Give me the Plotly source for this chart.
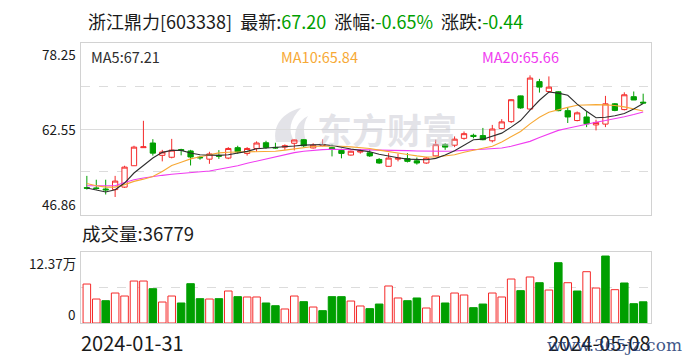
import plotly.graph_objects as go

# ---------------- data ----------------
dates = ["2024-01-31", "2024-02-01", "2024-02-02", "2024-02-05", "2024-02-06", "2024-02-07",
         "2024-02-08", "2024-02-19", "2024-02-20", "2024-02-21", "2024-02-22", "2024-02-23",
         "2024-02-26", "2024-02-27", "2024-02-28", "2024-02-29", "2024-03-01", "2024-03-04",
         "2024-03-05", "2024-03-06", "2024-03-07", "2024-03-08", "2024-03-11", "2024-03-12",
         "2024-03-13", "2024-03-14", "2024-03-15", "2024-03-18", "2024-03-19", "2024-03-20",
         "2024-03-21", "2024-03-22", "2024-03-25", "2024-03-26", "2024-03-27", "2024-03-28",
         "2024-03-29", "2024-04-01", "2024-04-02", "2024-04-03", "2024-04-08", "2024-04-09",
         "2024-04-10", "2024-04-11", "2024-04-12", "2024-04-15", "2024-04-16", "2024-04-17",
         "2024-04-18", "2024-04-19", "2024-04-22", "2024-04-23", "2024-04-24", "2024-04-25",
         "2024-04-26", "2024-04-29", "2024-04-30", "2024-05-06", "2024-05-07", "2024-05-08"]

opens = [51.85, 51.8, 51.6, 51.5, 51.95, 55.85, 59.15, 60.0, 57.75, 57.4,
         58.8, 58.55, 57.4, 57.05, 57.75, 57.25, 59.15, 58.1, 59.0, 60.05,
         59.2, 59.25, 59.95, 60.6, 59.1, 59.55, 59.15, 58.65, 57.8, 58.35,
         58.2, 57.0, 55.75, 57.05, 57.15, 56.75, 56.35, 57.65, 59.7, 59.6,
         60.85, 61.4, 61.35, 60.4, 62.65, 63.9, 68.6, 66.2, 71.2, 69.4,
         69.35, 65.9, 64.1, 64.75, 63.3, 63.45, 67.15, 66.1, 68.45, 67.45]
highs = [54.0, 53.3, 53.3, 54.0, 55.85, 59.5, 64.05, 60.7, 58.75, 60.75,
         58.95, 58.75, 57.65, 58.4, 58.7, 59.25, 59.5, 59.25, 60.3, 60.4,
         60.05, 59.75, 60.6, 60.7, 59.95, 60.65, 59.75, 58.95, 58.6, 58.9,
         58.75, 57.25, 58.15, 58.05, 58.15, 57.35, 57.45, 60.6, 60.0, 61.2,
         62.1, 61.7, 62.75, 63.3, 64.35, 68.0, 68.65, 72.35, 71.7, 72.15,
         69.45, 66.4, 65.75, 65.75, 64.25, 68.6, 67.3, 69.25, 69.4, 69.0]
lows = [51.5, 51.5, 50.6, 50.15, 51.8, 55.8, 59.1, 57.7, 56.65, 57.2,
        57.75, 55.9, 56.95, 56.2, 57.1, 57.05, 58.05, 57.7, 58.4, 58.95,
        58.95, 58.75, 58.65, 59.25, 59.0, 59.4, 57.55, 57.2, 57.7, 58.05,
        57.45, 56.2, 55.7, 56.65, 56.45, 56.05, 56.2, 57.55, 58.75, 59.25,
        60.6, 60.85, 60.5, 60.1, 62.5, 63.65, 66.25, 66.1, 69.2, 69.2,
        65.8, 63.65, 63.95, 62.9, 62.3, 62.9, 65.8, 65.95, 67.9, 67.15]
closes = [51.75, 51.7, 51.45, 53.05, 55.6, 59.25, 59.3, 58.15, 58.35, 58.7,
          58.65, 57.45, 57.3, 58.0, 57.6, 59.0, 58.4, 59.0, 60.0, 59.2,
          59.1, 59.5, 60.55, 59.5, 59.6, 59.7, 58.9, 58.1, 58.5, 58.55,
          57.65, 56.35, 57.25, 57.25, 56.65, 56.35, 57.25, 59.7, 59.25, 60.7,
          61.7, 61.2, 60.6, 62.55, 63.85, 67.9, 66.4, 71.85, 70.2, 70.2,
          65.9, 64.75, 65.5, 63.5, 63.75, 67.15, 65.95, 68.8, 67.85, 67.3]

ma5 = [51.78, 51.47, 51.05, 51.47, 52.69, 54.52, 55.85, 57.25, 58.29, 58.65,
       58.65, 58.17, 57.86, 57.74, 57.74, 57.86, 58.17, 58.47, 58.96, 59.08,
       59.15, 59.2, 59.45, 59.62, 59.7, 59.72, 59.55, 59.2, 58.9, 58.65,
       58.4, 57.95, 57.6, 57.3, 57.05, 56.95, 56.95, 57.2, 57.8, 58.6,
       59.65, 60.6, 60.7, 61.2, 61.8, 62.9, 64.1, 66.0, 67.8, 69.3,
       69.1, 68.7, 67.1, 65.8, 64.6, 64.7, 64.98, 65.4, 66.2, 67.21]
ma10 = [52.6, 52.2, 51.95, 51.95, 52.4, 53.0, 53.4, 53.9, 54.8, 55.9,
        56.5, 57.1, 57.5, 57.9, 58.2, 58.3, 58.35, 58.35, 58.4, 58.45,
        58.5, 58.7, 58.95, 59.15, 59.35, 59.45, 59.45, 59.4, 59.3, 59.2,
        59.0, 58.7, 58.4, 58.15, 57.9, 57.65, 57.45, 57.45, 57.6, 57.85,
        58.3, 58.7, 59.0, 59.4, 60.2, 61.2, 62.1, 63.5, 64.7, 65.6,
        66.1, 66.5, 66.9, 67.0, 67.0, 66.95, 66.85, 66.6, 66.25, 65.84]
ma20 = [52.2, 52.2, 52.2, 52.2, 52.8, 53.3, 53.6, 53.9, 54.1, 54.3,
        54.45, 54.6, 54.75, 54.9, 55.2, 55.5, 55.85, 56.3, 56.7, 57.15,
        57.55, 57.9, 58.25, 58.5, 58.7, 58.8, 58.85, 58.85, 58.85, 58.8,
        58.75, 58.7, 58.7, 58.65, 58.6, 58.55, 58.5, 58.5, 58.5, 58.55,
        58.7, 58.8, 58.85, 58.95, 59.1, 59.4, 59.8, 60.3, 61.0, 61.6,
        62.3, 62.7, 63.1, 63.5, 63.8, 64.1, 64.4, 64.8, 65.2, 65.66]

# volume in units of 万 (10,000 shares)
volume_wan = [6.76, 4.16, 3.87, 5.2, 4.68, 7.28, 7.28, 5.95, 3.64, 4.68,
              3.47, 6.82, 4.22, 4.16, 4.22, 5.55, 4.57, 4.51, 4.51, 3.47,
              3.0, 2.43, 4.68, 3.7, 2.77, 2.14, 4.57, 4.57, 3.81, 2.95,
              2.49, 3.29, 6.42, 4.34, 3.87, 4.34, 2.6, 4.68, 3.47, 5.2,
              4.86, 2.66, 3.29, 5.2, 4.51, 7.63, 5.61, 7.98, 6.99, 5.72,
              10.46, 6.99, 5.55, 8.9, 6.07, 11.62, 5.78, 6.94, 3.35, 3.68]
# 1 = up day (red), 0 = down day (green), as coloured in the volume panel
vol_up = [1, 1, 0, 1, 1, 1, 1, 0, 1, 1,
          0, 0, 0, 1, 0, 1, 0, 1, 1, 0,
          0, 1, 1, 0, 1, 0, 0, 0, 1, 1,
          0, 0, 1, 1, 0, 0, 1, 1, 0, 1,
          1, 0, 0, 1, 1, 1, 0, 1, 0, 1,
          0, 1, 0, 1, 1, 0, 1, 0, 0, 0]

price_ticks = [46.86, 62.55, 78.25]
price_minor = [54.71, 70.40]
vol_max = 12.37
vol_ticks = ["12.37万", "0"]

stock_name = "浙江鼎力[603338]"
latest = "67.20"
pct = "-0.65%"
chg = "-0.44"
last_volume = "36779"
ma_labels = ["MA5:67.21", "MA10:65.84", "MA20:65.66"]

# ---------------- styles ----------------
W, H = 688, 360
RED = "#f52a2a"
GREEN = "#009f00"
MA5C = "#2e2e2e"
MA10C = "#f7a935"
MA20C = "#f03cf0"
BORDER = "#d2d2d2"
GRID = "#dcdcdc"
TXT = "#1a1a1a"
WM = "rgba(200,200,210,0.5)"
FONT = "Noto Sans CJK SC, Noto Sans, sans-serif"

x0p, x1p = 81 / W, 651 / W
price_dom = [1 - 215 / H, 1 - 43 / H]
vol_dom = [1 - 323 / H, 1 - 251.7 / H]
xr = [-0.62, 59.83]


def px(x, y):
    return f"{x / W:.5f},{1 - y / H:.5f}"


fig = go.Figure()

fig.add_trace(go.Candlestick(
    x=dates, open=opens, high=highs, low=lows, close=closes,
    increasing=dict(line=dict(color=RED, width=1), fillcolor="white"),
    decreasing=dict(line=dict(color=GREEN, width=1), fillcolor=GREEN),
    whiskerwidth=0, showlegend=False, hoverinfo="skip",
    xaxis="x", yaxis="y"))

for vals, col in ((ma20, MA20C), (ma10, MA10C), (ma5, MA5C)):
    fig.add_trace(go.Scatter(x=dates, y=vals, mode="lines",
                             line=dict(color=col, width=1.1),
                             showlegend=False, hoverinfo="skip",
                             xaxis="x", yaxis="y"))

fig.add_trace(go.Bar(
    x=dates, y=volume_wan,
    marker=dict(color=["white" if u else GREEN for u in vol_up],
                line=dict(color=[RED if u else GREEN for u in vol_up], width=1)),
    showlegend=False, hoverinfo="skip", xaxis="x2", yaxis="y2"))

ax_common = dict(type="category", range=xr, showticklabels=False, showgrid=False,
                 showline=True, mirror=True, linecolor=BORDER, linewidth=1,
                 ticks="", zeroline=False, fixedrange=True)

# watermark logo swoosh (decoration, behind the data)
swoosh1 = ("M " + px(276, 142) + " C " + px(272, 126) + " " + px(283, 112) + " " + px(301, 108)
           + " C " + px(290, 119) + " " + px(287, 131) + " " + px(295, 142) + " Z")
swoosh2 = ("M " + px(296, 142) + " C " + px(293, 131) + " " + px(298, 121) + " " + px(308, 116)
           + " C " + px(302, 125) + " " + px(304, 134) + " " + px(306, 142) + " Z")

fig.update_layout(
    width=W, height=H, autosize=False,
    margin=dict(l=0, r=0, t=0, b=0),
    paper_bgcolor="white", plot_bgcolor="white",
    boxgap=0.2, bargap=0.2,
    font=dict(family=FONT, color=TXT),
    xaxis=dict(domain=[x0p, x1p], anchor="y", rangeslider=dict(visible=False), **ax_common),
    yaxis=dict(domain=price_dom, range=[price_ticks[0], price_ticks[-1]],
               tickmode="array", tickvals=price_ticks, showticklabels=False,
               showgrid=True, gridcolor=GRID, gridwidth=1,
               minor=dict(tickmode="array", tickvals=price_minor, showgrid=True,
                          gridcolor=GRID, griddash="dash", gridwidth=1, ticks=""),
               showline=True, mirror=True, linecolor=BORDER, zeroline=False,
               ticks="", fixedrange=True),
    xaxis2=dict(domain=[x0p, x1p], anchor="y2", **ax_common),
    yaxis2=dict(domain=vol_dom, range=[0, vol_max], tickmode="array",
                tickvals=[vol_max / 2], showticklabels=False, showgrid=True,
                gridcolor=GRID, griddash="dash", showline=True, mirror=True,
                linecolor=BORDER, zeroline=False, ticks="", fixedrange=True),
    shapes=[dict(type="path", path=swoosh1, xref="paper", yref="paper",
                 fillcolor=WM, line=dict(width=0), layer="below"),
            dict(type="path", path=swoosh2, xref="paper", yref="paper",
                 fillcolor=WM, line=dict(width=0), layer="below")],
)

ann = []
lab_x = 78 / W
TF = dict(size=13.5, color=TXT)
# price axis labels
ann.append(dict(x=lab_x, xref="paper", y=price_ticks[2], yref="y", text=f"{price_ticks[2]:.2f}",
                xanchor="right", yanchor="top", showarrow=False, font=TF, yshift=1))
ann.append(dict(x=lab_x, xref="paper", y=price_ticks[1], yref="y", text=f"{price_ticks[1]:.2f}",
                xanchor="right", yanchor="middle", showarrow=False, font=TF))
ann.append(dict(x=lab_x, xref="paper", y=price_ticks[0], yref="y", text=f"{price_ticks[0]:.2f}",
                xanchor="right", yanchor="bottom", showarrow=False, font=TF, yshift=-1))
# volume axis labels
ann.append(dict(x=lab_x, xref="paper", y=vol_max, yref="y2", text=vol_ticks[0],
                xanchor="right", yanchor="top", showarrow=False, font=TF, yshift=1))
ann.append(dict(x=lab_x, xref="paper", y=0, yref="y2", text=vol_ticks[1],
                xanchor="right", yanchor="bottom", showarrow=False, font=TF, yshift=-3))

# title
sp = "\u00a0\u00a0"
title = (f"{stock_name}{sp}最新:<span style='color:{GREEN}'>{latest}</span>{sp}"
         f"涨幅:<span style='color:{GREEN}'>{pct}</span>{sp}"
         f"涨跌:<span style='color:{GREEN}'>{chg}</span>")
ann.append(dict(x=86 / W, xref="paper", y=1 - 21 / H, yref="paper", text=title,
                xanchor="left", yanchor="middle", showarrow=False,
                font=dict(size=18, color=TXT)))

# MA legend
for txt, col, pxl in zip(ma_labels, (MA5C, MA10C, MA20C), (89, 279, 480)):
    ann.append(dict(x=pxl / W, xref="paper", y=1 - 56 / H, yref="paper", text=txt,
                    xanchor="left", yanchor="middle", showarrow=False,
                    font=dict(size=14.5, color=col)))

# volume caption
ann.append(dict(x=80 / W, xref="paper", y=1 - 233 / H, yref="paper",
                text=f"成交量:{last_volume}", xanchor="left", yanchor="middle",
                showarrow=False, font=dict(size=18.5, color=TXT)))

# date labels
ann.append(dict(x=79 / W, xref="paper", y=1 - 342 / H, yref="paper", text=dates[0],
                xanchor="left", yanchor="middle", showarrow=False,
                font=dict(size=20, color=TXT)))
ann.append(dict(x=653 / W, xref="paper", y=1 - 342 / H, yref="paper", text=dates[-1],
                xanchor="right", yanchor="middle", showarrow=False,
                font=dict(size=20, color=TXT)))

# watermarks
ann.append(dict(x=387 / W, xref="paper", y=1 - 128 / H, yref="paper", text="<b>东方财富</b>",
                xanchor="center", yanchor="middle", showarrow=False,
                font=dict(size=35, color=WM)))
ann.append(dict(x=684 / W, xref="paper", y=1 - 345 / H, yref="paper", text="www.365jz.com",
                xanchor="right", yanchor="middle", showarrow=False,
                font=dict(size=17, color="rgba(25,55,115,0.85)",
                          family="DejaVu Serif, Liberation Serif, serif")))

fig.update_layout(annotations=ann)

fig.write_html("out.html",
               config={"displayModeBar": False, "staticPlot": True},
               post_script="document.body.style.margin='0px';document.body.style.padding='0px';")
